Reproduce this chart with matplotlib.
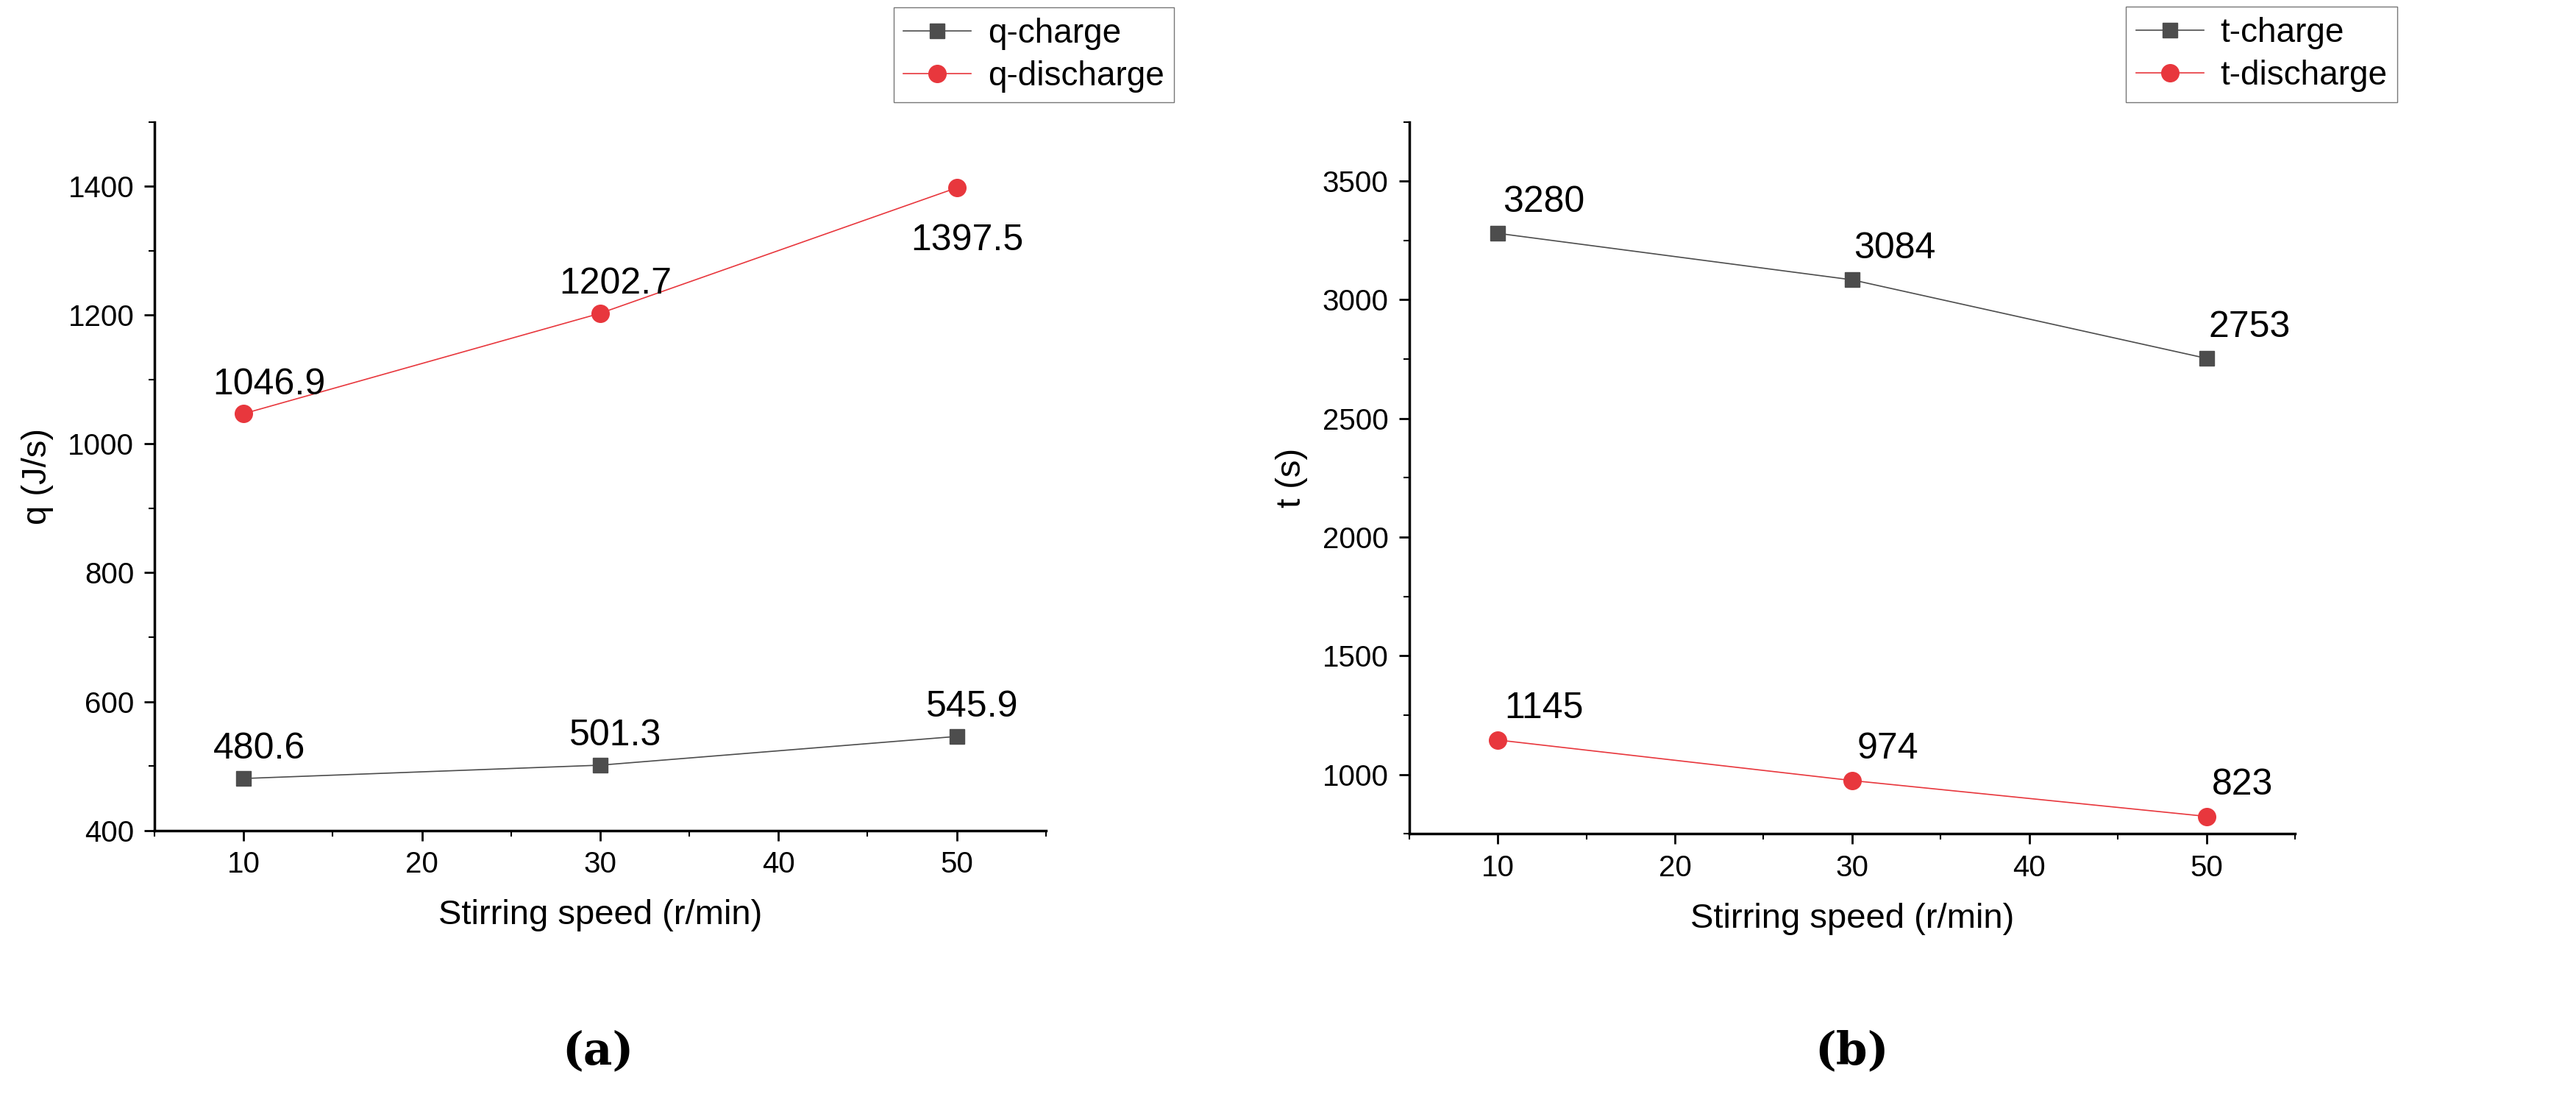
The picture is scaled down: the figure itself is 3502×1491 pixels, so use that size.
import matplotlib
matplotlib.use("Agg")
import matplotlib.pyplot as plt
from matplotlib.ticker import MultipleLocator

speeds = [10, 30, 50]
q_charge = [480.6, 501.3, 545.9]
q_discharge = [1046.9, 1202.7, 1397.5]
t_charge = [3280, 3084, 2753]
t_discharge = [1145, 974, 823]

GREY = "#4d4d4d"
RED = "#e8373d"

plt.rcParams["font.family"] = ["Liberation Sans", "DejaVu Sans"]

fig = plt.figure(figsize=(35.02, 14.91), dpi=100)
ax1 = fig.add_axes([0.060, 0.243, 0.346, 0.646])
ax2 = fig.add_axes([0.547, 0.240, 0.344, 0.649])


def style(ax, ylab):
    for s in ("top", "right"):
        ax.spines[s].set_visible(False)
    for s in ("left", "bottom"):
        ax.spines[s].set_linewidth(2.5)
    ax.set_xlim(5, 55)
    ax.xaxis.set_major_locator(MultipleLocator(10))
    ax.xaxis.set_minor_locator(MultipleLocator(5))
    ax.tick_params(which="major", direction="out", length=10, width=2, labelsize=29, pad=10)
    ax.tick_params(which="minor", direction="out", length=6, width=1.5)
    ax.set_xlabel("Stirring speed (r/min)", fontsize=34, labelpad=20)
    ax.set_ylabel(ylab, fontsize=34, labelpad=14)


def annotate(ax, xs, ys, offsets):
    for x, y, (dx, dy) in zip(xs, ys, offsets):
        ax.annotate(f"{y:g}", (x, y), xytext=(dx, dy), textcoords="offset points",
                    fontsize=36, ha="center", va="bottom")


# panel (a)
ax1.plot(speeds, q_charge, "-s", color=GREY, markersize=15, linewidth=1.2, label="q-charge")
ax1.plot(speeds, q_discharge, "-o", color=RED, markersize=17, linewidth=1.2, label="q-discharge")
ax1.set_ylim(400, 1500)
ax1.yaxis.set_major_locator(MultipleLocator(200))
ax1.yaxis.set_minor_locator(MultipleLocator(100))
style(ax1, "q (J/s)")
annotate(ax1, speeds, q_charge, [(15, 12), (15, 12), (15, 12)])
annotate(ax1, speeds, q_discharge, [(25, 12), (15, 12), (10, -68)])
ax1.legend(loc="upper left", bbox_to_anchor=(0.81, 1.185), fontsize=33, frameon=True,
           fancybox=False, edgecolor="#555555", handlelength=2.0, borderpad=0.3,
           labelspacing=0.3, handletextpad=0.5)

# panel (b)
ax2.plot(speeds, t_charge, "-s", color=GREY, markersize=15, linewidth=1.2, label="t-charge")
ax2.plot(speeds, t_discharge, "-o", color=RED, markersize=17, linewidth=1.2, label="t-discharge")
ax2.set_ylim(750, 3750)
ax2.yaxis.set_major_locator(MultipleLocator(500))
ax2.yaxis.set_minor_locator(MultipleLocator(250))
style(ax2, "t (s)")
annotate(ax2, speeds, t_charge, [(45, 14), (42, 14), (42, 14)])
annotate(ax2, speeds, t_discharge, [(45, 14), (35, 14), (35, 14)])
ax2.legend(loc="upper left", bbox_to_anchor=(0.79, 1.185), fontsize=33, frameon=True,
           fancybox=False, edgecolor="#555555", handlelength=2.0, borderpad=0.3,
           labelspacing=0.3, handletextpad=0.5)

fig.text(0.232, 0.03, "(a)", ha="center", fontsize=44, family="DejaVu Serif", weight="bold")
fig.text(0.719, 0.03, "(b)", ha="center", fontsize=44, family="DejaVu Serif", weight="bold")

fig.savefig("out.png", dpi=100)
